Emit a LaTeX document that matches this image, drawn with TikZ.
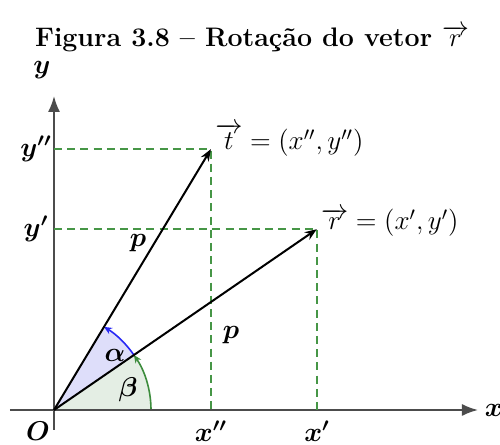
\RequirePackage{fix-cm}
\documentclass[tikz,border=0pt]{standalone}
\usepackage{amsmath,bm}
\usetikzlibrary{arrows.meta}

\definecolor{guidegreen}{RGB}{70,150,70}
\definecolor{alphafill}{RGB}{222,222,250}
\definecolor{betafill}{RGB}{228,238,228}
\definecolor{alphaarc}{RGB}{40,40,245}
\definecolor{betaarc}{RGB}{60,140,60}

\begin{document}
\begin{tikzpicture}[x=0.5pt, y=0.5pt, >=Stealth, font=\fontsize{13.6}{16}\selectfont,
  axis/.style={draw=black!70, line width=0.9pt},
  vec/.style={-{Stealth[length=6pt, width=4.5pt]}, line width=1pt},
  guide/.style={draw=guidegreen, dash pattern=on 4pt off 2.6pt, line width=0.9pt},
  lbl/.style={inner sep=1pt}]
  \useasboundingbox (-54,-35) rectangle (446,410);
  \coordinate (O) at (0,0);
  \coordinate (R) at (34.53:319);
  \coordinate (T) at (58.97:304.5);
  % shaded angles
  \fill[betafill] (O) -- (0:97) arc[start angle=0, end angle=34.53, radius=97] -- cycle;
  \fill[alphafill] (O) -- (34.53:97) arc[start angle=34.53, end angle=58.97, radius=97] -- cycle;
  \draw[betaarc, -{Stealth[length=4pt, width=3.5pt]}, line width=0.8pt] (0:97) arc[start angle=0, end angle=34.53, radius=97];
  \draw[alphaarc, -{Stealth[length=4pt, width=3.5pt]}, line width=0.8pt] (34.53:97) arc[start angle=34.53, end angle=58.97, radius=97];
  % axes
  \draw[axis, -{Latex[length=8pt, width=6pt]}] (-44,0) -- (424,0) node[right=2pt, lbl] (xl) {$\bm{x}$};
  \draw[axis, -{Latex[length=8pt, width=6pt]}] (0,-20) -- (0,314);
  \node[lbl] (yl) at (-12,340) {$\bm{y}$};
  % projections
  \draw[guide] (O |- T) -- (T) -- (T |- O);
  \draw[guide] (O |- R) -- (R) -- (R |- O);
  % vectors
  \draw[vec] (O) -- (T);
  \draw[vec] (O) -- (R);
  % labels
  \node[lbl] (title) at (198,371) {\fontsize{13.4}{16}\selectfont\bfseries Figura 3.8 -- Rotação do vetor $\overrightarrow{r}$};
  \node[lbl] (ylpp) at (-18,261) {$\bm{y''}$};
  \node[lbl] (ylp) at (-18,181) {$\bm{y'}$};
  \node[lbl] (xlpp) at (157,-21) {$\bm{x''}$};
  \node[lbl] (xlp) at (263,-21) {$\bm{x'}$};
  \node[lbl] (ol) at (-16,-21) {$\bm{O}$};
  \node[lbl, anchor=south west] (tl) at ([xshift=1pt,yshift=-5pt]T) {$\overrightarrow{t}=(x'',y'')$};
  \node[lbl, anchor=south west] (rl) at ([xshift=1pt,yshift=-5pt]R) {$\overrightarrow{r}=(x',y')$};
  \node[lbl] (pt) at (84,167) {$\bm{p}$};
  \node[lbl] (pr) at (177,75) {$\bm{p}$};
  \node[lbl] (al) at (61,55) {$\bm{\alpha}$};
  \node[lbl] (bl) at (74,20) {$\bm{\beta}$};
\end{tikzpicture}
\end{document}
